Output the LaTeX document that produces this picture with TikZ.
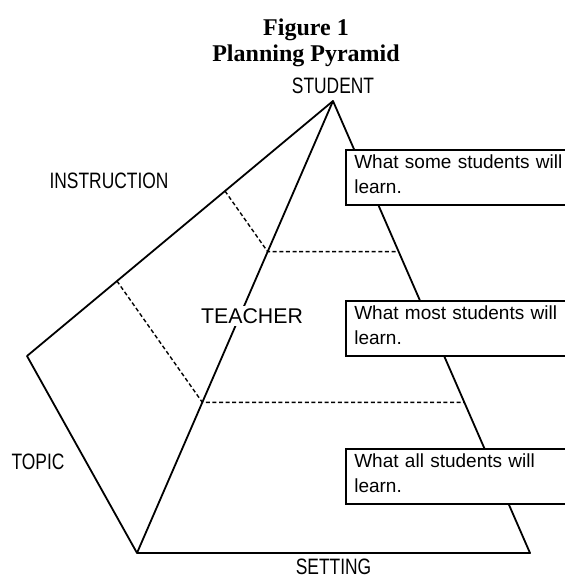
\documentclass[tikz,border=0pt]{standalone}
\usepackage{fontspec}
\usepackage{graphicx}
\setmainfont{Liberation Serif}
\newfontfamily\pyrsans{Liberation Sans}
\newcommand{\narrowtext}[1]{\scalebox{0.78}[1]{#1}}
\usetikzlibrary{positioning,calc}

\tikzset{
  side/.style={line width=1.8pt, line join=round},
  level/.style={line width=1.4pt, dash pattern=on 4pt off 2.6pt},
  lbl/.style={font=\pyrsans\fontsize{22.3}{24}\selectfont, inner sep=2pt},
  goal/.style={draw, line width=1.6pt, fill=white, anchor=north west, align=left,
    text width=205pt, inner xsep=8.5pt, minimum height=55pt, text depth=31pt,
    font=\pyrsans\fontsize{19}{25}\selectfont},
  title/.style={font=\bfseries\fontsize{24}{26}\selectfont, align=center, inner sep=0pt},
}

\begin{document}
\begin{tikzpicture}[x=1pt, y=-1pt]
  \useasboundingbox (0,0) rectangle (565,579);
  \clip (0,0) rectangle (565,579);
  % --- corners of the pyramid ---
  \coordinate (apex) at (333,101);
  \coordinate (L) at (27,356);
  \coordinate (B) at (137,553);
  \coordinate (R) at (530,553);
  % --- level marks on the edges ---
  \coordinate (t1) at ($(apex)!1/3!(B)$);
  \coordinate (t2) at ($(apex)!2/3!(B)$);
  \coordinate (r1) at ($(apex)!1/3!(R)$);
  \coordinate (r2) at ($(apex)!2/3!(R)$);
  \coordinate (l1) at ($(apex)!0.353!(L)$);
  \coordinate (l2) at ($(apex)!0.706!(L)$);
  % --- solid edges ---
  \draw[side] (apex) -- (L) -- (B) -- (R) -- cycle;
  \draw[side] (apex) -- (B);
  % --- dashed levels ---
  \draw[level] (l1) -- (t1) -- (r1);
  \draw[level] (l2) -- (t2) -- (r2);
  % --- title and labels ---
  \node[title] (fig) at (306,42.5) {Figure 1\\Planning Pyramid};
  \node[lbl, above=5pt of apex] (student) {\narrowtext{STUDENT}};
  \node[lbl, below=4pt] (setting) at ($(B)!0.5!(R)$) {\narrowtext{SETTING}};
  \node[lbl] (instruction) at (109,181) {\narrowtext{INSTRUCTION}};
  \node[lbl] (topic) at (38,462) {\narrowtext{TOPIC}};
  \node[lbl, fill=white, font=\pyrsans\fontsize{21.3}{24}\selectfont] (teacher) at (252,316) {TEACHER};
  % --- goal boxes ---
  \node[goal] (some) at (345,149) {\mbox{What some students will}\\learn.};
  \node[goal] (most) at (345,300) {\mbox{What most students will}\\learn.};
  \node[goal] (all) at (345,448) {\mbox{What all students will}\\learn.};
\end{tikzpicture}
\end{document}
